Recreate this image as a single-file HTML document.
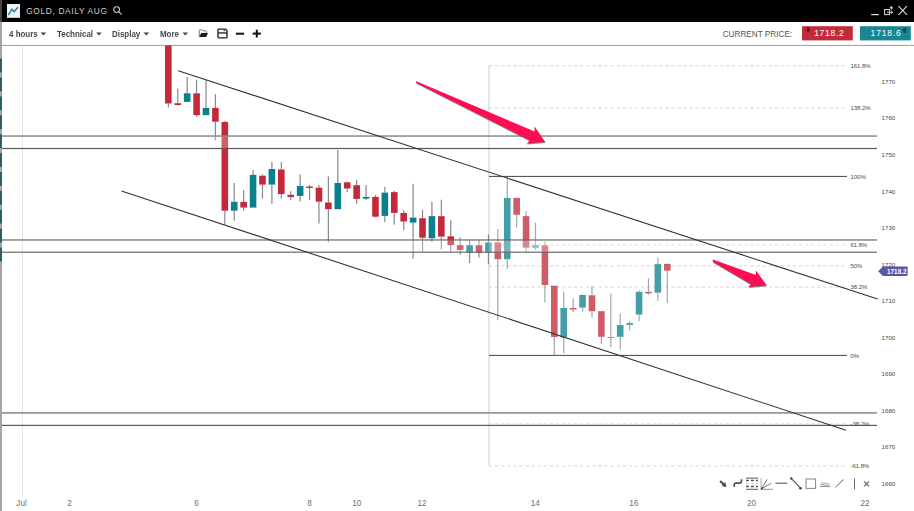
<!DOCTYPE html>
<html><head><meta charset="utf-8">
<style>
html,body{margin:0;padding:0;width:914px;height:511px;overflow:hidden;background:#fff;font-family:"Liberation Sans",sans-serif;}
.abs{position:absolute;}
#title{left:0;top:0;width:914px;height:21.5px;background:#000;}
#title .t{left:26.2px;top:6.3px;color:#cfcfcf;font-size:8.3px;letter-spacing:0.68px;line-height:10px;white-space:nowrap;}
.tb{top:28.9px;font-size:8.5px;letter-spacing:0px;transform:scaleX(0.935);transform-origin:0 0;font-weight:bold;color:#444852;line-height:10px;white-space:nowrap;}
.cp{top:29.6px;font-size:8.2px;color:#555;letter-spacing:0px;line-height:10px;white-space:nowrap;}
svg{position:absolute;left:0;top:0;}
</style></head><body>
<div id="title" class="abs">
  <div class="abs" style="left:0;top:0;width:2px;height:21px;background:#444"></div>
  <svg width="914" height="21" style="position:absolute;left:0;top:0">
    <rect x="7" y="4" width="13" height="13.8" fill="#f2f2f2"/>
    <polyline points="8.4,15.2 11.8,9.2 14.1,11.6 18,7.3" fill="none" stroke="#1b8a95" stroke-width="1.5"/>
    <circle cx="116.6" cy="9.6" r="2.9" fill="none" stroke="#c8c8c8" stroke-width="1.1"/>
    <line x1="118.7" y1="11.7" x2="121.6" y2="14.6" stroke="#c8c8c8" stroke-width="1.2"/>
    <line x1="871.2" y1="14.6" x2="878.9" y2="14.6" stroke="#ddd" stroke-width="1.2"/>
    <rect x="884.6" y="9.6" width="5" height="5" fill="none" stroke="#ddd" stroke-width="1"/>
    <path d="M887 12.3 H892.5 M891 10.8 L892.6 12.3 L891 13.8" fill="none" stroke="#ddd" stroke-width="0.9"/>
    <path d="M891.3 6 V9.6 M889.6 7.8 H893" fill="none" stroke="#ddd" stroke-width="1"/>
    <line x1="898.5" y1="6.2" x2="907" y2="14.9" stroke="#ddd" stroke-width="1.1"/>
    <line x1="907" y1="6.2" x2="898.5" y2="14.9" stroke="#ddd" stroke-width="1.1"/>
  </svg>
  <div class="abs t">GOLD, DAILY AUG</div>
</div>
<div class="abs tb" style="left:8.7px">4 hours</div>
<div class="abs tb" style="left:56.8px">Technical</div>
<div class="abs tb" style="left:112.3px">Display</div>
<div class="abs tb" style="left:159.6px">More</div>
<div class="abs cp" style="left:722.7px">CURRENT PRICE:</div>
<svg width="914" height="511">
  <rect x="0" y="21.5" width="2" height="490" fill="#a4a4a4"/>
  <rect x="0" y="58.6" width="2" height="13.8" fill="#2a6166"/><rect x="0" y="77.5" width="2" height="13.8" fill="#2a6166"/><rect x="0" y="96.4" width="2" height="13.8" fill="#2a6166"/><rect x="0" y="115.3" width="2" height="13.8" fill="#2a6166"/><rect x="0" y="134.2" width="2" height="13.8" fill="#2a6166"/><rect x="0" y="153.1" width="2" height="13.8" fill="#2a6166"/><rect x="0" y="172.0" width="2" height="13.8" fill="#2a6166"/><rect x="0" y="190.9" width="2" height="13.8" fill="#2a6166"/><rect x="0" y="209.8" width="2" height="13.8" fill="#2a6166"/><rect x="0" y="228.7" width="2" height="13.8" fill="#2a6166"/><rect x="0" y="247.6" width="2" height="13.8" fill="#2a6166"/>
  <!-- toolbar icons -->
  <g fill="#444">
    <path d="M40.6 32.4 h5.6 l-2.8 3.2z"/>
    <path d="M96.1 32.4 h5.6 l-2.8 3.2z"/>
    <path d="M143.5 32.4 h5.6 l-2.8 3.2z"/>
    <path d="M182.5 32.4 h5.6 l-2.8 3.2z"/>
  </g>
  <!-- folder -->
  <path d="M199.3 37 V30.4 Q199.3 29.8 199.9 29.8 H202.2 L203 30.8 H205.6 Q206.2 30.8 206.2 31.4 V33" fill="none" stroke="#6a6a6a" stroke-width="0.9"/>
  <path d="M199.3 37.1 L201.2 33.1 H208 L206.1 37.1Z" fill="#1e1e1e"/>
  <!-- save -->
  <path d="M218.8 29.1 H225.6 L227 30.5 V37.1 Q227 37.9 226.2 37.9 H218.8 Q218 37.9 218 37.1 V29.9 Q218 29.1 218.8 29.1Z" fill="none" stroke="#1e1e1e" stroke-width="1.35"/>
  <rect x="218" y="32.3" width="9" height="1.3" fill="#1e1e1e"/>
  <rect x="223.6" y="29.6" width="1.3" height="1.6" fill="#444"/>
  <!-- minus plus -->
  <rect x="235.9" y="32.7" width="8.2" height="2" fill="#111"/>
  <rect x="252.7" y="32.6" width="8.2" height="2" fill="#111"/>
  <rect x="255.8" y="29.7" width="2" height="7.8" fill="#111"/>
  <!-- price boxes -->
  <rect x="802" y="26.2" width="50.8" height="14.2" fill="#c42b3a"/>
  <path d="M806.8 27 h2.6 v2.8 h1.5 l-2.8 2.6 l-2.8 -2.6 h1.5z" fill="#6a1018"/>
  <text x="814.2" y="36.1" fill="#fff" font-size="8.5" letter-spacing="0.7">1718.2</text>
  <rect x="860" y="26.2" width="50.8" height="14.2" fill="#178793"/>
  <path d="M903.2 33 h2.6 v-2.8 h1.5 l-2.8 -2.6 l-2.8 2.6 h1.5z" fill="#0b4b52"/>
  <text x="870.6" y="36.1" fill="#fff" font-size="8.5" letter-spacing="0.85">1718.6</text>
  <!-- toolbar border -->
  <rect x="0" y="44.9" width="914" height="1" fill="#9c9c9c"/>
  <!-- grid -->
  <rect x="22" y="45.5" width="1" height="450" fill="#e6e6e6"/>
  <line x1="489" y1="65.8" x2="489" y2="465.5" stroke="#d4d4d4" stroke-width="1.3"/>
  <svg x="2" y="45.4" width="912" height="466" overflow="hidden">
   <g transform="translate(-2,-45.4)">
  <g fill="#858a8e"><rect x="167.73" y="103.5" width="1.2" height="3.9"/><rect x="177.15" y="88.7" width="1.2" height="14.5"/><rect x="177.15" y="105.0" width="1.2" height="0.5"/><rect x="186.56" y="77.0" width="1.2" height="16.3"/><rect x="195.98" y="79.7" width="1.2" height="13.6"/><rect x="195.98" y="115.2" width="1.2" height="1.6"/><rect x="205.39" y="80.3" width="1.2" height="27.6"/><rect x="214.81" y="94.1" width="1.2" height="13.8"/><rect x="214.81" y="121.7" width="1.2" height="18.8"/><rect x="224.22" y="121.0" width="1.2" height="1.0"/><rect x="224.22" y="210.7" width="1.2" height="13.8"/><rect x="233.63" y="183.0" width="1.2" height="18.8"/><rect x="233.63" y="210.7" width="1.2" height="9.9"/><rect x="243.05" y="190.0" width="1.2" height="11.8"/><rect x="243.05" y="207.6" width="1.2" height="3.1"/><rect x="252.46" y="170.0" width="1.2" height="4.9"/><rect x="261.88" y="174.2" width="1.2" height="1.5"/><rect x="261.88" y="184.6" width="1.2" height="14.0"/><rect x="271.29" y="162.0" width="1.2" height="7.0"/><rect x="271.29" y="184.6" width="1.2" height="19.2"/><rect x="280.70" y="162.0" width="1.2" height="7.5"/><rect x="280.70" y="194.0" width="1.2" height="4.6"/><rect x="290.12" y="191.2" width="1.2" height="3.6"/><rect x="290.12" y="197.1" width="1.2" height="3.0"/><rect x="299.53" y="174.3" width="1.2" height="11.7"/><rect x="299.53" y="195.9" width="1.2" height="5.5"/><rect x="308.95" y="184.9" width="1.2" height="1.6"/><rect x="308.95" y="188.0" width="1.2" height="12.1"/><rect x="318.36" y="184.9" width="1.2" height="2.8"/><rect x="318.36" y="201.7" width="1.2" height="21.8"/><rect x="327.78" y="176.3" width="1.2" height="26.2"/><rect x="327.78" y="209.2" width="1.2" height="33.2"/><rect x="337.19" y="149.8" width="1.2" height="33.2"/><rect x="346.60" y="181.3" width="1.2" height="1.0"/><rect x="346.60" y="188.5" width="1.2" height="3.8"/><rect x="356.02" y="180.0" width="1.2" height="5.2"/><rect x="356.02" y="198.9" width="1.2" height="4.9"/><rect x="365.43" y="185.0" width="1.2" height="11.9"/><rect x="365.43" y="198.7" width="1.2" height="1.2"/><rect x="374.85" y="194.9" width="1.2" height="2.0"/><rect x="374.85" y="216.7" width="1.2" height="0.9"/><rect x="384.26" y="186.9" width="1.2" height="5.7"/><rect x="384.26" y="215.9" width="1.2" height="6.4"/><rect x="393.67" y="190.8" width="1.2" height="1.3"/><rect x="393.67" y="212.9" width="1.2" height="11.7"/><rect x="403.09" y="210.1" width="1.2" height="2.8"/><rect x="403.09" y="221.5" width="1.2" height="8.6"/><rect x="412.50" y="183.9" width="1.2" height="33.7"/><rect x="412.50" y="222.6" width="1.2" height="36.1"/><rect x="421.92" y="209.6" width="1.2" height="8.6"/><rect x="421.92" y="237.7" width="1.2" height="13.9"/><rect x="431.33" y="201.8" width="1.2" height="14.3"/><rect x="431.33" y="238.3" width="1.2" height="3.7"/><rect x="440.74" y="199.7" width="1.2" height="16.5"/><rect x="440.74" y="236.6" width="1.2" height="12.7"/><rect x="450.16" y="220.1" width="1.2" height="16.2"/><rect x="450.16" y="245.1" width="1.2" height="6.9"/><rect x="459.57" y="237.2" width="1.2" height="8.0"/><rect x="459.57" y="249.9" width="1.2" height="4.8"/><rect x="468.99" y="239.9" width="1.2" height="5.3"/><rect x="468.99" y="252.4" width="1.2" height="10.6"/><rect x="478.40" y="239.9" width="1.2" height="5.3"/><rect x="478.40" y="252.8" width="1.2" height="4.7"/><rect x="487.82" y="234.4" width="1.2" height="8.0"/><rect x="487.82" y="252.2" width="1.2" height="12.1"/><rect x="497.23" y="229.0" width="1.2" height="13.4"/><rect x="497.23" y="259.2" width="1.2" height="61.1"/><rect x="506.64" y="176.7" width="1.2" height="21.2"/><rect x="506.64" y="259.2" width="1.2" height="9.6"/><rect x="516.06" y="197.5" width="1.2" height="0.4"/><rect x="516.06" y="214.8" width="1.2" height="12.7"/><rect x="525.47" y="211.0" width="1.2" height="5.1"/><rect x="525.47" y="247.7" width="1.2" height="4.7"/><rect x="534.89" y="222.7" width="1.2" height="22.7"/><rect x="534.89" y="247.7" width="1.2" height="2.3"/><rect x="544.30" y="241.5" width="1.2" height="3.9"/><rect x="544.30" y="285.0" width="1.2" height="17.6"/><rect x="553.71" y="337.0" width="1.2" height="18.6"/><rect x="563.13" y="291.9" width="1.2" height="16.1"/><rect x="563.13" y="337.5" width="1.2" height="15.7"/><rect x="572.54" y="298.6" width="1.2" height="9.4"/><rect x="572.54" y="309.6" width="1.2" height="2.4"/><rect x="581.96" y="294.4" width="1.2" height="0.6"/><rect x="581.96" y="307.6" width="1.2" height="4.0"/><rect x="591.37" y="286.2" width="1.2" height="9.1"/><rect x="591.37" y="311.2" width="1.2" height="6.3"/><rect x="600.78" y="336.8" width="1.2" height="7.4"/><rect x="610.20" y="293.5" width="1.2" height="43.5"/><rect x="610.20" y="337.8" width="1.2" height="9.4"/><rect x="619.61" y="313.6" width="1.2" height="11.5"/><rect x="619.61" y="336.8" width="1.2" height="12.8"/><rect x="629.03" y="321.3" width="1.2" height="1.8"/><rect x="629.03" y="324.9" width="1.2" height="5.6"/><rect x="638.44" y="290.4" width="1.2" height="1.4"/><rect x="638.44" y="314.6" width="1.2" height="6.5"/><rect x="647.86" y="278.2" width="1.2" height="13.6"/><rect x="647.86" y="293.4" width="1.2" height="1.7"/><rect x="657.27" y="257.4" width="1.2" height="6.7"/><rect x="657.27" y="292.6" width="1.2" height="8.3"/><rect x="666.68" y="263.3" width="1.2" height="0.6"/><rect x="666.68" y="270.7" width="1.2" height="32.2"/></g><rect x="165.03" y="45.0" width="6.6" height="58.5" fill="#c3293a"/><rect x="174.45" y="103.2" width="6.6" height="1.8" fill="#c3293a"/><rect x="183.86" y="93.3" width="6.6" height="8.6" fill="#0a808d"/><rect x="193.28" y="93.3" width="6.6" height="21.9" fill="#c3293a"/><rect x="202.69" y="107.9" width="6.6" height="7.3" fill="#0a808d"/><rect x="212.11" y="107.9" width="6.6" height="13.8" fill="#c3293a"/><rect x="221.52" y="122.0" width="6.6" height="88.7" fill="#c3293a"/><rect x="230.93" y="201.8" width="6.6" height="8.9" fill="#0a808d"/><rect x="240.35" y="201.8" width="6.6" height="5.8" fill="#c3293a"/><rect x="249.76" y="174.9" width="6.6" height="32.7" fill="#0a808d"/><rect x="259.18" y="175.7" width="6.6" height="8.9" fill="#c3293a"/><rect x="268.59" y="169.0" width="6.6" height="15.6" fill="#0a808d"/><rect x="278.00" y="169.5" width="6.6" height="24.5" fill="#c3293a"/><rect x="287.42" y="194.8" width="6.6" height="2.3" fill="#c3293a"/><rect x="296.83" y="186.0" width="6.6" height="9.9" fill="#0a808d"/><rect x="306.25" y="186.5" width="6.6" height="1.5" fill="#c3293a"/><rect x="315.66" y="187.7" width="6.6" height="14.0" fill="#c3293a"/><rect x="325.08" y="202.5" width="6.6" height="6.7" fill="#c3293a"/><rect x="334.49" y="183.0" width="6.6" height="26.2" fill="#0a808d"/><rect x="343.90" y="182.3" width="6.6" height="6.2" fill="#c3293a"/><rect x="353.32" y="185.2" width="6.6" height="13.7" fill="#c3293a"/><rect x="362.73" y="196.9" width="6.6" height="1.8" fill="#0a808d"/><rect x="372.15" y="196.9" width="6.6" height="19.8" fill="#c3293a"/><rect x="381.56" y="192.6" width="6.6" height="23.3" fill="#0a808d"/><rect x="390.97" y="192.1" width="6.6" height="20.8" fill="#c3293a"/><rect x="400.39" y="212.9" width="6.6" height="8.6" fill="#c3293a"/><rect x="409.80" y="217.6" width="6.6" height="5.0" fill="#0a808d"/><rect x="419.22" y="218.2" width="6.6" height="19.5" fill="#c3293a"/><rect x="428.63" y="216.1" width="6.6" height="22.2" fill="#0a808d"/><rect x="438.04" y="216.2" width="6.6" height="20.4" fill="#c3293a"/><rect x="447.46" y="236.3" width="6.6" height="8.8" fill="#c3293a"/><rect x="456.87" y="245.2" width="6.6" height="4.7" fill="#c3293a"/><rect x="466.29" y="245.2" width="6.6" height="7.2" fill="#0a808d"/><rect x="475.70" y="245.2" width="6.6" height="7.6" fill="#c3293a"/><rect x="485.12" y="242.4" width="6.6" height="9.8" fill="#0a808d"/><rect x="494.53" y="242.4" width="6.6" height="16.8" fill="#c3293a"/><rect x="503.94" y="197.9" width="6.6" height="61.3" fill="#0a808d"/><rect x="513.36" y="197.9" width="6.6" height="16.9" fill="#c3293a"/><rect x="522.77" y="216.1" width="6.6" height="31.6" fill="#c3293a"/><rect x="532.19" y="245.4" width="6.6" height="2.3" fill="#0a808d"/><rect x="541.60" y="245.4" width="6.6" height="39.6" fill="#c3293a"/><rect x="551.01" y="285.7" width="6.6" height="51.3" fill="#c3293a"/><rect x="560.43" y="308.0" width="6.6" height="29.5" fill="#0a808d"/><rect x="569.84" y="308.0" width="6.6" height="1.6" fill="#c3293a"/><rect x="579.26" y="295.0" width="6.6" height="12.6" fill="#0a808d"/><rect x="588.67" y="295.3" width="6.6" height="15.9" fill="#c3293a"/><rect x="598.08" y="311.2" width="6.6" height="25.6" fill="#c3293a"/><rect x="607.50" y="337.0" width="6.6" height="1" fill="#777"/><rect x="616.91" y="325.1" width="6.6" height="11.7" fill="#0a808d"/><rect x="626.33" y="323.1" width="6.6" height="1.8" fill="#0a808d"/><rect x="635.74" y="291.8" width="6.6" height="22.8" fill="#0a808d"/><rect x="645.16" y="291.8" width="6.6" height="1.6" fill="#c3293a"/><rect x="654.57" y="264.1" width="6.6" height="28.5" fill="#0a808d"/><rect x="663.98" y="263.9" width="6.6" height="6.8" fill="#c3293a"/>
   </g>
  </svg>
  <!-- fib overlay -->
  <rect x="489" y="65.8" width="358" height="399.6" fill="#fff" fill-opacity="0.24"/>
  <line x1="489" y1="65.8" x2="847" y2="65.8" stroke="#8a8a8a" stroke-opacity="0.38" stroke-width="1" stroke-dasharray="3.2 2.88"/><line x1="489" y1="108.0" x2="847" y2="108.0" stroke="#8a8a8a" stroke-opacity="0.38" stroke-width="1" stroke-dasharray="3.2 2.88"/><line x1="489" y1="176.4" x2="847" y2="176.4" stroke="#444" stroke-width="1"/><line x1="489" y1="244.8" x2="847" y2="244.8" stroke="#8a8a8a" stroke-opacity="0.38" stroke-width="1" stroke-dasharray="3.2 2.88"/><line x1="489" y1="265.9" x2="847" y2="265.9" stroke="#8a8a8a" stroke-opacity="0.38" stroke-width="1" stroke-dasharray="3.2 2.88"/><line x1="489" y1="287.0" x2="847" y2="287.0" stroke="#8a8a8a" stroke-opacity="0.38" stroke-width="1" stroke-dasharray="3.2 2.88"/><line x1="489" y1="355.4" x2="847" y2="355.4" stroke="#444" stroke-width="1"/><line x1="489" y1="423.8" x2="847" y2="423.8" stroke="#8a8a8a" stroke-opacity="0.38" stroke-width="1" stroke-dasharray="3.2 2.88"/><line x1="489" y1="466.0" x2="847" y2="466.0" stroke="#8a8a8a" stroke-opacity="0.38" stroke-width="1" stroke-dasharray="3.2 2.88"/>
  <!-- bands -->
  <rect x="2" y="136" width="875" height="12.5" fill="#fff" fill-opacity="0.25"/>
  <rect x="2" y="240" width="875" height="12.3" fill="#fff" fill-opacity="0.25"/>
  <rect x="2" y="413" width="875" height="12.4" fill="#fff" fill-opacity="0.25"/>
  <g>
    <rect x="2" y="135.3" width="875" height="1.5" fill="#8a8a8a"/>
    <rect x="2" y="147.9" width="875" height="1.2" fill="#5a5a5a"/>
    <rect x="2" y="239.4" width="875" height="1.15" fill="#626262"/>
    <rect x="2" y="251.6" width="875" height="1.2" fill="#6a6a6a"/>
    <rect x="2" y="412.1" width="875" height="1.6" fill="#8e8e8e"/>
    <rect x="2" y="424.8" width="875" height="1.2" fill="#5a5a5a"/>
  </g>
  <!-- channels -->
  <line x1="178.2" y1="70.7" x2="877.7" y2="299.1" stroke="#333" stroke-width="1.1"/>
  <line x1="121.5" y1="190.9" x2="846" y2="430.3" stroke="#333" stroke-width="1.1"/>
  <!-- arrows -->
  <defs><filter id="sh" x="-10%" y="-10%" width="120%" height="130%"><feGaussianBlur stdDeviation="0.5"/></filter></defs>
  <g fill="#1f4a3c" fill-opacity="0.6" transform="translate(0.3,1)" filter="url(#sh)">
    <path d="M416.3 81.2 L534.6 131.6 L534.6 126.5 L545.2 142 L526.7 143.6 L529.9 140.4 L416.5 82.9 Q415.6 82 416.3 81.2Z"/>
    <path d="M713.0 259.4 L755.9 275 L755.9 270.6 L766.7 285.3 L748.1 287 L751 284.3 L713.2 261.9 Q712.2 260.6 713.0 259.4Z"/>
  </g>
  <g fill="#ff0c52">
    <path d="M416.3 81.2 L534.6 131.6 L534.6 126.5 L545.2 142 L526.7 143.6 L529.9 140.4 L416.5 82.9 Q415.6 82 416.3 81.2Z"/>
    <path d="M713.0 259.4 L755.9 275 L755.9 270.6 L766.7 285.3 L748.1 287 L751 284.3 L713.2 261.9 Q712.2 260.6 713.0 259.4Z"/>
  </g>
  <!-- axis text -->
  <g font-size="6.2" fill="#484848"><text x="881.5" y="83.8">1770</text><text x="881.5" y="120.4">1760</text><text x="881.5" y="156.9">1750</text><text x="881.5" y="193.5">1740</text><text x="881.5" y="230.0">1730</text><text x="881.5" y="266.6">1720</text><text x="881.5" y="303.1">1710</text><text x="881.5" y="339.7">1700</text><text x="881.5" y="376.2">1690</text><text x="881.5" y="412.8">1680</text><text x="881.5" y="449.4">1670</text><text x="881.5" y="485.9">1660</text></g>
  <g font-size="5.95" fill="#484848"><text x="850.5" y="67.9">161.8%</text><text x="850.5" y="110.2">138.2%</text><text x="850.5" y="178.5">100%</text><text x="850.5" y="246.9">61.8%</text><text x="850.5" y="268.0">50%</text><text x="850.5" y="289.2">38.2%</text><text x="850.5" y="357.5">0%</text><text x="850.5" y="425.9">-38.2%</text><text x="850.5" y="468.2">-61.8%</text></g>
  <g font-size="8.2" fill="#707070"><text x="21.6" y="506" text-anchor="middle">Jul</text><text x="69.5" y="506" text-anchor="middle">2</text><text x="196.5" y="506" text-anchor="middle">6</text><text x="309.6" y="506" text-anchor="middle">8</text><text x="356.8" y="506" text-anchor="middle">10</text><text x="422" y="506" text-anchor="middle">12</text><text x="535.3" y="506" text-anchor="middle">14</text><text x="633.9" y="506" text-anchor="middle">16</text><text x="751.6" y="506" text-anchor="middle">20</text><text x="865" y="506" text-anchor="middle">22</text></g>
  <!-- price tag -->
  <path d="M878.2 271.2 L882.9 266.5 H906.8 Q907.6 266.5 907.6 267.3 V275.1 Q907.6 275.9 906.8 275.9 H882.9 Z" fill="#5b57a8"/>
  <text x="887" y="273.6" font-size="6.4" font-weight="bold" fill="#fff">1718.2</text>
  <!-- drawing toolbar -->
  <g stroke="#555" fill="none">
    <path d="M720 480.9 L724 484.6" stroke-width="2.1" stroke="#4a4a4a"/>
    <path d="M722 485.7 L726.2 486.7 L725.2 482.6Z" fill="#4a4a4a" stroke="#4a4a4a" stroke-width="0.6"/>
    <path d="M734.2 487 V485 Q734.2 483.1 736.2 483.1 H739.3 Q741.5 483.1 741.5 481 V479.3" stroke-width="1.6" stroke="#505050"/>
    <path d="M746.1 478.2 H758.1 M746.1 489.3 H758.1" stroke-width="1.3" stroke="#7a7a7a"/>
    <path d="M746.1 480.5 H748.9 M750.9 480.5 H753.9 M755.8 480.5 H758.1 M746.1 486.5 H748.9 M750.9 486.5 H753.9 M755.8 486.5 H758.1" stroke-width="1.3" stroke="#505050"/>
    <path d="M746.1 483.5 H748.9 M750.9 483.5 H753.9 M755.8 483.5 H758.1" stroke-width="1.2" stroke="#cfcfcf"/>
    <path d="M761.1 478 V489.5" stroke-width="1.3" stroke="#bdbdbd"/>
    <path d="M761.5 489.3 H772.9" stroke-width="1" stroke="#8a8a8a"/>
    <path d="M761.6 488.6 L767.1 479.3 M761.6 488.6 L771.5 483.2" stroke-width="0.9" stroke="#666"/>
    <circle cx="761.8" cy="488.6" r="1" fill="#444" stroke="none"/>
    <path d="M775.4 483.2 H787.2" stroke-width="1.1"/>
    <path d="M791.2 478.4 L800.5 488.2" stroke-width="1.1"/>
    <circle cx="791.2" cy="478.4" r="1.2" fill="#444" stroke="none"/>
    <circle cx="800.5" cy="488.3" r="1.3" fill="#444" stroke="none"/>
    <rect x="806" y="479" width="9.6" height="9.4" stroke-width="1" stroke="#858585"/>
    <path d="M820 486.6 H830.4" stroke-width="0.8" stroke="#777"/>
    <path d="M835.3 487.3 L843.6 479.4" stroke-width="1" stroke="#666"/>
    <path d="M854.5 478.4 V489.3" stroke-width="1" stroke="#666"/>
    <path d="M864 481.5 L869 486.3 M869 481.5 L864 486.3" stroke-width="1.3" stroke="#777"/>
  </g>
  <text x="820.2" y="485.6" font-size="5.6" fill="#777" font-style="italic">Abc</text>
</svg>
</body></html>
